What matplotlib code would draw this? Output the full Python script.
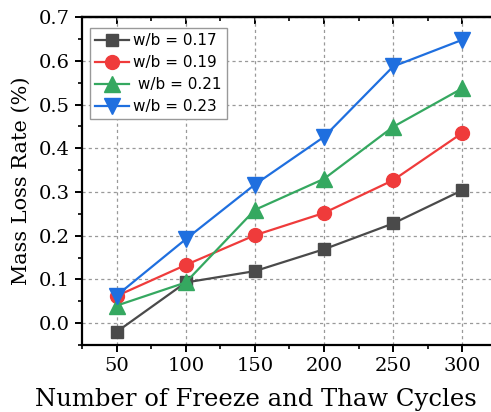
import numpy as np
import matplotlib.pyplot as plt
from matplotlib.ticker import MultipleLocator

cycles = [50, 100, 150, 200, 250, 300]
wb017 = [-0.020, 0.093, 0.119, 0.169, 0.228, 0.304]
wb019 = [0.062, 0.133, 0.201, 0.252, 0.327, 0.435]
wb021 = [0.040, 0.093, 0.259, 0.330, 0.449, 0.537]
wb023 = [0.063, 0.192, 0.317, 0.426, 0.587, 0.648]
labels = ["w/b = 0.17", "w/b = 0.19", " w/b = 0.21", "w/b = 0.23"]

fig = plt.figure(figsize=(4.91, 4.12), dpi=100)
# axes run past the right edge of the figure, as in the cropped original
ax = fig.add_axes([0.167, 0.1626, 0.845, 0.796])

ax.plot(cycles, wb017, color="#4a4a4a", marker="s", ms=9, lw=1.6, label=labels[0])
ax.plot(cycles, wb019, color="#ef3b3b", marker="o", ms=10, lw=1.6, label=labels[1])
ax.plot(cycles, wb021, color="#35a860", marker="^", ms=11, lw=1.6, label=labels[2])
ax.plot(cycles, wb023, color="#1f6fdf", marker="v", ms=11, lw=1.6, label=labels[3])

ax.set_xlim(25, 325)
ax.set_ylim(-0.05, 0.7)
ax.xaxis.set_major_locator(MultipleLocator(50))
ax.xaxis.set_minor_locator(MultipleLocator(25))
ax.yaxis.set_major_locator(MultipleLocator(0.1))
ax.yaxis.set_minor_locator(MultipleLocator(0.05))
ax.yaxis.set_major_formatter(plt.FormatStrFormatter("%.1f"))

ax.grid(True, which="major", color="#999999", ls=(0, (2.5, 2.5)), lw=0.9)
for s in ax.spines.values():
    s.set_linewidth(1.6)
ax.tick_params(which="major", direction="out", length=5, width=1.4, labelsize=14)
ax.tick_params(which="minor", direction="out", length=3, width=1.2)

# top ticks point into the axes
sec = ax.secondary_xaxis("top")
sec.set_xticks(cycles)
sec.xaxis.set_minor_locator(MultipleLocator(25))
sec.tick_params(which="major", direction="in", length=5, width=1.4, labeltop=False)
sec.tick_params(which="minor", direction="in", length=3, width=1.2)
sec.spines["top"].set_linewidth(1.6)

for lab in ax.get_xticklabels() + ax.get_yticklabels():
    lab.set_family("DejaVu Serif")

ax.set_xlabel("Number of Freeze and Thaw Cycles", family="DejaVu Serif", fontsize=17.5)
ax.xaxis.set_label_coords(0.419, -0.132)
ax.set_ylabel("Mass Loss Rate (%)", family="DejaVu Serif", fontsize=15, labelpad=6)

leg = ax.legend(loc="upper left", bbox_to_anchor=(0.0, 0.99), fontsize=11, fancybox=False,
                edgecolor="#999999", framealpha=1, handlelength=2.2, borderpad=0.35,
                labelspacing=0.45, handletextpad=0.3)
leg.get_frame().set_linewidth(1.0)

fig.savefig("out.png", dpi=100)
